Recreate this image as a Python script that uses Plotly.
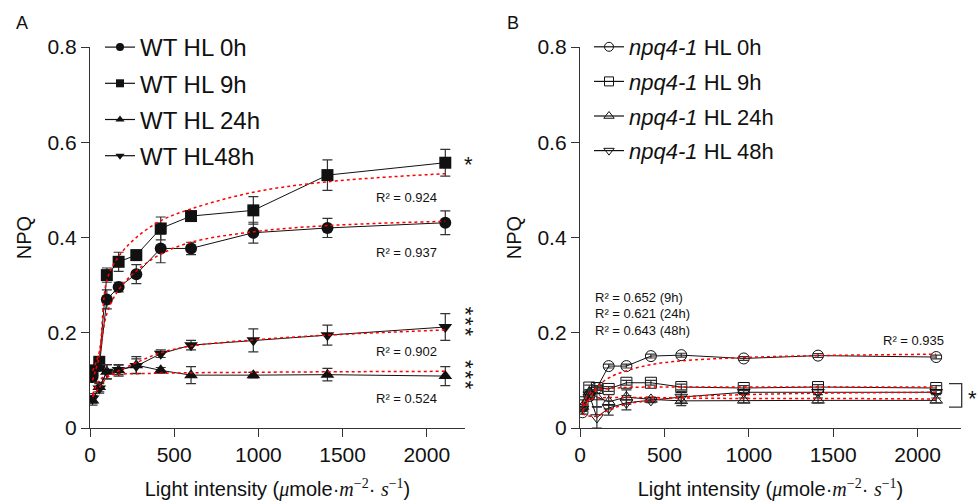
import plotly.graph_objects as go

# ---------------- data ----------------
light = [15, 55, 100, 170, 275, 420, 600, 970, 1410, 2110]

# Panel A: wild type
wt_0h = [0.107, 0.13, 0.27, 0.296, 0.323, 0.377, 0.377, 0.41, 0.42, 0.431]
wt_0h_err = [0.01, 0.01, 0.02, 0.01, 0.02, 0.03, 0.013, 0.022, 0.02, 0.025]
wt_9h = [0.121, 0.139, 0.321, 0.349, 0.363, 0.419, 0.445, 0.457, 0.531, 0.557]
wt_9h_err = [0.01, 0.01, 0.015, 0.02, 0.01, 0.024, 0.01, 0.029, 0.032, 0.028]
wt_24h = [0.058, 0.086, 0.118, 0.121, 0.132, 0.121, 0.111, 0.111, 0.112, 0.109]
wt_24h_err = [0.01, 0.01, 0.015, 0.012, 0.018, 0.006, 0.018, 0.006, 0.013, 0.02]
wt_48h = [0.062, 0.083, 0.118, 0.122, 0.13, 0.156, 0.174, 0.184, 0.195, 0.212]
wt_48h_err = [0.01, 0.01, 0.015, 0.01, 0.015, 0.008, 0.01, 0.024, 0.021, 0.028]

fit_wt_0h = [0.10, 0.15, 0.24, 0.29, 0.33, 0.365, 0.39, 0.412, 0.425, 0.434]
fit_wt_9h = [0.12, 0.16, 0.31, 0.36, 0.40, 0.435, 0.46, 0.495, 0.517, 0.534]
fit_wt_24h = [0.07, 0.10, 0.11, 0.113, 0.114, 0.115, 0.116, 0.117, 0.118, 0.119]
fit_wt_48h = [0.065, 0.085, 0.105, 0.12, 0.137, 0.158, 0.172, 0.185, 0.195, 0.206]

# Panel B: npq4-1
npq_0h = [0.033, 0.067, 0.084, 0.13, 0.13, 0.151, 0.153, 0.146, 0.152, 0.149]
npq_0h_err = [0.004, 0.004, 0.004, 0.004, 0.004, 0.004, 0.004, 0.004, 0.004, 0.004]
npq_9h = [0.054, 0.085, 0.084, 0.082, 0.095, 0.095, 0.086, 0.084, 0.086, 0.084]
npq_9h_err = [0.005, 0.005, 0.005, 0.005, 0.005, 0.005, 0.006, 0.005, 0.005, 0.005]
npq_24h = [0.045, 0.075, 0.065, 0.055, 0.065, 0.06, 0.057, 0.058, 0.058, 0.058]
npq_24h_err = [0.005, 0.005, 0.02, 0.015, 0.015, 0.005, 0.01, 0.005, 0.005, 0.005]
npq_48h = [0.04, 0.07, 0.022, 0.042, 0.053, 0.058, 0.065, 0.075, 0.075, 0.075]
npq_48h_err = [0.005, 0.005, 0.022, 0.015, 0.015, 0.005, 0.012, 0.005, 0.005, 0.005]

fit_npq_0h = [0.035, 0.06, 0.085, 0.105, 0.12, 0.133, 0.141, 0.148, 0.152, 0.155]
fit_npq_9h = [0.05, 0.072, 0.08, 0.083, 0.085, 0.086, 0.086, 0.086, 0.086, 0.086]
fit_npq_24h = [0.045, 0.06, 0.063, 0.064, 0.064, 0.064, 0.063, 0.062, 0.062, 0.061]
fit_npq_48h = [0.03, 0.025, 0.025, 0.038, 0.05, 0.058, 0.065, 0.07, 0.073, 0.075]

labels_a = ["WT HL 0h", "WT HL 9h", "WT HL 24h", "WT HL48h"]
labels_b = ["<i>npq4-1</i> HL 0h", "<i>npq4-1</i> HL 9h",
            "<i>npq4-1</i> HL 24h", "<i>npq4-1</i> HL 48h"]
r2_a = ["R² = 0.924", "R² = 0.937", "R² = 0.902", "R² = 0.524"]
r2_a_y = [0.483, 0.368, 0.160, 0.062]
r2_b = ["R² = 0.652 (9h)", "R² = 0.621 (24h)", "R² = 0.643 (48h)"]
r2_b_y = [0.274, 0.241, 0.204]
# significance marks (text, y in data units)
stars_a = [("*", 0.559), ("***", 0.2233), ("***", 0.1113)]
stars_b = [("*", 0.069)]

FONT = "Liberation Sans, Arial, sans-serif"
BLACK = "#111111"
AX = "#333333"

W, H = 977, 501


def px(xp):
    return xp / W


def py(yp):
    return 1 - yp / H


fig = go.Figure()

symbols_a = ["circle", "square", "triangle-up", "triangle-down"]
symbols_b = ["circle-open", "square-open", "triangle-up-open", "triangle-down-open"]
series_a = [(wt_0h, wt_0h_err), (wt_9h, wt_9h_err), (wt_24h, wt_24h_err), (wt_48h, wt_48h_err)]
series_b = [(npq_0h, npq_0h_err), (npq_9h, npq_9h_err), (npq_24h, npq_24h_err), (npq_48h, npq_48h_err)]
fits_a = [fit_wt_0h, fit_wt_9h, fit_wt_24h, fit_wt_48h]
fits_b = [fit_npq_0h, fit_npq_9h, fit_npq_24h, fit_npq_48h]

for (vals, err), sym in zip(series_a, symbols_a):
    fig.add_trace(go.Scatter(
        x=light, y=vals, mode="lines+markers", showlegend=False,
        line=dict(color=BLACK, width=1),
        marker=dict(symbol=sym, size=12, color=BLACK),
        error_y=dict(type="data", array=err, color=AX, thickness=1.2, width=5),
        xaxis="x", yaxis="y"))
for fv in fits_a:
    fig.add_trace(go.Scatter(
        x=light, y=fv, mode="lines", showlegend=False, line_shape="spline",
        line=dict(color="red", width=1.5, dash="dot"), xaxis="x", yaxis="y"))

for (vals, err), sym in zip(series_b, symbols_b):
    fig.add_trace(go.Scatter(
        x=light, y=vals, mode="lines+markers", showlegend=False,
        line=dict(color=BLACK, width=1),
        marker=dict(symbol=sym, size=11, color=BLACK, line=dict(width=1)),
        error_y=dict(type="data", array=err, color=AX, thickness=1.2, width=5),
        xaxis="x2", yaxis="y2"))
for fv in fits_b:
    fig.add_trace(go.Scatter(
        x=light, y=fv, mode="lines", showlegend=False, line_shape="spline",
        line=dict(color="red", width=1.5, dash="dot"), xaxis="x2", yaxis="y2"))

# legend entries
for i, (lab, sym) in enumerate(zip(labels_a, symbols_a)):
    fig.add_trace(go.Scatter(
        x=[None], y=[None], mode="lines+markers", name=lab, legend="legend",
        legendgroup=f"a{i}",
        line=dict(color=BLACK, width=1.2), marker=dict(symbol=sym, size=8, color=BLACK),
        xaxis="x", yaxis="y"))
for i, (lab, sym) in enumerate(zip(labels_b, symbols_b)):
    fig.add_trace(go.Scatter(
        x=[None], y=[None], mode="lines+markers", name=lab, legend="legend2",
        legendgroup=f"b{i}",
        line=dict(color=BLACK, width=1.2),
        marker=dict(symbol=sym, size=9, color=BLACK, line=dict(width=1)),
        xaxis="x2", yaxis="y2"))

SERIF = "style='font-family:Liberation Serif'"
xtitle = (f"Light intensity (<span {SERIF}><i>μ</i></span>mole·"
          f"<span {SERIF}><i>m</i><sup>−2</sup></span>· "
          f"<span {SERIF}><i>s</i><sup>−1</sup></span>)")

ydom = [py(428), py(47)]
common_x = dict(showline=True, linecolor=AX, linewidth=1.3, ticks="outside", ticklen=8,
                tickwidth=1.3, tickcolor=AX, showgrid=False, zeroline=False,
                tickvals=[0, 500, 1000, 1500, 2000], tickfont=dict(size=21, color=BLACK),
                title=dict(text=xtitle, font=dict(size=20, color=BLACK), standoff=17),
                automargin=False)
common_y = dict(showline=True, linecolor=AX, linewidth=1.3, ticks="outside", ticklen=8,
                tickwidth=1.3, tickcolor=AX, showgrid=False, zeroline=False,
                range=[0, 0.8], tickvals=[0, 0.2, 0.4, 0.6, 0.8],
                ticktext=["0", "0.2", "0.4", "0.6", "0.8"],
                tickfont=dict(size=21, color=BLACK), domain=ydom,
                title=dict(text="NPQ", font=dict(size=20, color=BLACK), standoff=10),
                automargin=False)

fig.update_layout(
    width=W, height=H,
    margin=dict(l=0, r=0, t=0, b=0),
    paper_bgcolor="white", plot_bgcolor="white",
    font=dict(family=FONT, color=BLACK),
    xaxis=dict(domain=[px(90), px(465)], range=[0, 2227], anchor="y", **common_x),
    yaxis=dict(anchor="x", **common_y),
    xaxis2=dict(domain=[px(580), px(961)], range=[0, 2257], anchor="y2", **common_x),
    yaxis2=dict(anchor="x2", **common_y),
    legend=dict(x=px(100), y=py(25), xanchor="left", yanchor="top",
                font=dict(size=24, color=BLACK), bgcolor="rgba(0,0,0,0)",
                tracegroupgap=2, itemwidth=30),
    legend2=dict(x=px(589), y=py(26), xanchor="left", yanchor="top",
                 font=dict(size=22, color=BLACK), bgcolor="rgba(0,0,0,0)",
                 tracegroupgap=3, itemwidth=30),
    showlegend=True,
)

ann = []
ann.append(dict(text="A", x=px(22), y=py(23), xref="paper", yref="paper",
                showarrow=False, font=dict(size=18), xanchor="center", yanchor="middle"))
ann.append(dict(text="B", x=px(513), y=py(23), xref="paper", yref="paper",
                showarrow=False, font=dict(size=18), xanchor="center", yanchor="middle"))
for t, yv in zip(r2_a, r2_a_y):
    ann.append(dict(text=t, x=1882, y=yv, xref="x", yref="y", showarrow=False,
                    font=dict(size=13), xanchor="center", yanchor="middle"))
for t, yv in zip(r2_b, r2_b_y):
    ann.append(dict(text=t, x=77, y=yv, xref="x2", yref="y2", showarrow=False,
                    font=dict(size=13), xanchor="left", yanchor="middle"))
ann.append(dict(text="R² = 0.935", x=1974, y=0.183, xref="x2", yref="y2", showarrow=False,
                font=dict(size=13), xanchor="center", yanchor="middle"))


def star_ann(s, xp, yv, yref):
    if len(s) == 1:
        return dict(text=s, x=px(xp), y=yv, xref="paper", yref=yref, showarrow=False,
                    font=dict(size=22), xanchor="center", yanchor="middle", yshift=-3)
    # a stacked column of stars: one rotated line of text, stars ~11px apart
    return dict(text="\u200a".join(s), x=px(xp), y=yv, xref="paper", yref=yref,
                showarrow=False, font=dict(size=22), textangle=90,
                xanchor="center", yanchor="middle", xshift=-3)


for s, yv in stars_a:
    ann.append(star_ann(s, 468, yv, "y"))
for s, yv in stars_b:
    ann.append(star_ann(s, 972, yv, "y2"))
fig.update_layout(annotations=ann)

fig.add_shape(type="path", xref="paper", yref="y2",
              path=f"M {px(949)},0.093 L {px(961.7)},0.093 L {px(961.7)},0.044 L {px(949)},0.044",
              line=dict(color=AX, width=1.3))

# remove the default 8px page margin so the figure fills the 977x501 window
fig.write_html("out.html",
               config={"displayModeBar": False},
               post_script="document.body.style.margin='0';"
                           "document.body.style.overflow='hidden';")
